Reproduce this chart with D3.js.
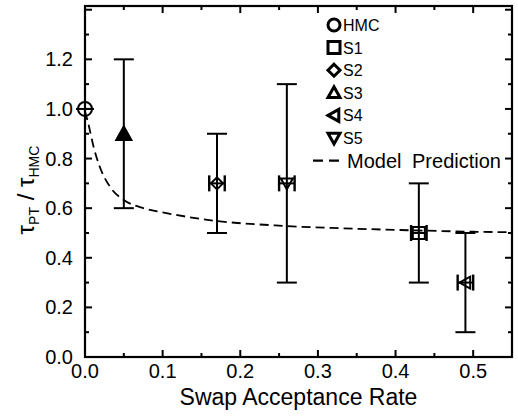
<!DOCTYPE html>
<html>
<head>
<meta charset="utf-8">
<script src="https://cdn.jsdelivr.net/npm/d3@7"></script>
<style>
  body { margin: 0; background: #fff; }
  svg { display: block; font-family: "Liberation Sans", Arial, Helvetica, sans-serif; }
</style>
</head>
<body>
<script>
const series = ["HMC", "S1", "S2", "S3", "S4", "S5"];
const symbols = ["circle", "square", "diamond", "triUp", "triLeft", "triDown"];
const rate = [0.0, 0.43, 0.17, 0.05, 0.49, 0.26];
const rateErr = [0, 0.01, 0.01, 0, 0.01, 0.01];
const ratio = [1.0, 0.5, 0.7, 0.9, 0.3, 0.7];
const ratioLo = [1.0, 0.3, 0.5, 0.6, 0.1, 0.3];
const ratioHi = [1.0, 0.7, 0.9, 1.2, 0.5, 1.1];

// dashed model curve
const modelRate = [0, 0.004, 0.011, 0.019, 0.032, 0.05, 0.075, 0.1, 0.16, 0.26, 0.35, 0.43, 0.5, 0.55];
const modelRatio = [0.99, 0.944, 0.848, 0.767, 0.687, 0.633, 0.60, 0.583, 0.552, 0.528, 0.517, 0.51, 0.505, 0.503];

const xTicks = [0, 0.1, 0.2, 0.3, 0.4, 0.5];
const yTicks = [0, 0.2, 0.4, 0.6, 0.8, 1.0, 1.2];

const width = 518, height = 417;
const margin = {left: 85, right: 6, top: 6, bottom: 60};

const svg = d3.select("body").append("svg")
    .attr("width", width)
    .attr("height", height);

const x = d3.scaleLinear().domain([0, 0.55]).range([margin.left, width - margin.right]);
const y = d3.scaleLinear().domain([0, 1.415]).range([height - margin.bottom, margin.top]);

const x0 = x.range()[0], x1 = x.range()[1];
const y0 = y.range()[0], y1 = y.range()[1];

// ticks on all four sides, pointing inward
const axes = svg.append("g").attr("stroke", "#000");
d3.range(0, 0.551, 0.05).forEach((v, i) => {
  const len = i % 2 === 0 ? 7 : 4;
  axes.append("line").attr("x1", x(v)).attr("x2", x(v)).attr("y1", y0).attr("y2", y0 - len).attr("stroke-width", 2);
  axes.append("line").attr("x1", x(v)).attr("x2", x(v)).attr("y1", y1).attr("y2", y1 + len).attr("stroke-width", 2);
});
d3.range(0, 1.41, 0.1).forEach((v, i) => {
  const len = i % 2 === 0 ? 7 : 4;
  axes.append("line").attr("y1", y(v)).attr("y2", y(v)).attr("x1", x0).attr("x2", x0 + len).attr("stroke-width", 2);
  axes.append("line").attr("y1", y(v)).attr("y2", y(v)).attr("x1", x1).attr("x2", x1 - len).attr("stroke-width", 2);
});

svg.append("rect")
    .attr("x", x0).attr("y", y1)
    .attr("width", x1 - x0).attr("height", y0 - y1)
    .attr("fill", "none").attr("stroke", "#000").attr("stroke-width", 2.2);

svg.append("g").selectAll("text")
  .data(xTicks)
  .join("text")
    .attr("x", d => x(d))
    .attr("y", y0 + 21)
    .attr("text-anchor", "middle")
    .attr("font-size", 20)
    .text(d => d3.format(".1f")(d));

svg.append("g").selectAll("text")
  .data(yTicks)
  .join("text")
    .attr("x", x0 - 12)
    .attr("y", d => y(d) + 7)
    .attr("text-anchor", "end")
    .attr("font-size", 20)
    .text(d => d3.format(".1f")(d));

svg.append("text")
    .attr("x", (x0 + x1) / 2)
    .attr("y", 405)
    .attr("text-anchor", "middle")
    .attr("font-size", 23)
    .text("Swap Acceptance Rate");

const yt = svg.append("text")
    .attr("transform", "translate(34,190) rotate(-90)")
    .attr("text-anchor", "middle")
    .attr("font-size", 24);
yt.append("tspan").text("τ");
yt.append("tspan").attr("font-size", 14).attr("dy", 5).text("PT");
yt.append("tspan").attr("dy", -5).text(" / τ");
yt.append("tspan").attr("font-size", 14).attr("dy", 5).text("HMC");

// model prediction
const line = d3.line()
    .x(d => x(d[0]))
    .y(d => y(d[1]))
    .curve(d3.curveMonotoneX);

svg.append("path")
    .datum(d3.zip(modelRate, modelRatio))
    .attr("d", line)
    .attr("fill", "none")
    .attr("stroke", "#000")
    .attr("stroke-width", 1.8)
    .attr("stroke-dasharray", "9,5");

function symbolPath(kind, s) {
  const h = s / 2;
  switch (kind) {
    case "square": return `M${-h},${-h}H${h}V${h}H${-h}Z`;
    case "diamond": return `M0,${-h}L${h},0L0,${h}L${-h},0Z`;
    case "triUp": return `M0,${-h}L${h},${h * 0.8}L${-h},${h * 0.8}Z`;
    case "triDown": return `M0,${h}L${h},${-h * 0.8}L${-h},${-h * 0.8}Z`;
    case "triLeft": return `M${-h},0L${h * 0.8},${-h}L${h * 0.8},${h}Z`;
  }
}

function drawSymbol(g, kind, s, sw) {
  if (kind === "circle") {
    g.append("circle").attr("r", s / 2).attr("fill", "none").attr("stroke", "#000").attr("stroke-width", sw);
  } else {
    g.append("path").attr("d", symbolPath(kind, s)).attr("fill", "none").attr("stroke", "#000").attr("stroke-width", sw);
  }
}

// error bars and points
const pts = series.map((name, i) => ({
  name, sym: symbols[i], x: rate[i], xe: rateErr[i], y: ratio[i], lo: ratioLo[i], hi: ratioHi[i]
}));

const pg = svg.append("g").attr("stroke", "#000");
pts.forEach(d => {
  const cx = x(d.x), cy = y(d.y);
  if (d.hi > d.lo) {
    pg.append("line").attr("x1", cx).attr("x2", cx).attr("y1", y(d.lo)).attr("y2", y(d.hi)).attr("stroke-width", 2);
    pg.append("line").attr("x1", cx - 10).attr("x2", cx + 10).attr("y1", y(d.lo)).attr("y2", y(d.lo)).attr("stroke-width", 2);
    pg.append("line").attr("x1", cx - 10).attr("x2", cx + 10).attr("y1", y(d.hi)).attr("y2", y(d.hi)).attr("stroke-width", 2);
  }
  if (d.xe > 0) {
    const xl = x(d.x - d.xe), xr = x(d.x + d.xe);
    pg.append("line").attr("x1", xl).attr("x2", xr).attr("y1", cy).attr("y2", cy).attr("stroke-width", 2);
    pg.append("line").attr("x1", xl).attr("x2", xl).attr("y1", cy - 8).attr("y2", cy + 8).attr("stroke-width", 2.4);
    pg.append("line").attr("x1", xr).attr("x2", xr).attr("y1", cy - 8).attr("y2", cy + 8).attr("stroke-width", 2.4);
  }
  const g = pg.append("g").attr("transform", `translate(${cx},${cy})`);
  if (d.sym === "circle") {
    drawSymbol(g, "circle", 14, 2);
    g.append("line").attr("x1", -9).attr("x2", 9).attr("stroke-width", 2);
    g.append("line").attr("y1", -9).attr("y2", 9).attr("stroke-width", 2);
  } else if (d.sym === "triUp") {
    g.append("path").attr("d", symbolPath("triUp", 16)).attr("fill", "#000").attr("stroke-width", 1.5);
  } else {
    drawSymbol(g, d.sym, 12, 2);
  }
});

// legend
const lg = svg.append("g");
series.forEach((name, i) => {
  const ly = 25 + i * 22.6;
  const g = lg.append("g").attr("transform", `translate(334,${ly})`);
  drawSymbol(g, symbols[i], 12, 3);
  lg.append("text")
      .attr("x", 343)
      .attr("y", ly + 6)
      .attr("font-size", 16)
      .text(name);
});
const my = 25 + 6 * 22.6;
lg.append("line")
    .attr("x1", 313).attr("x2", 340)
    .attr("y1", my).attr("y2", my)
    .attr("stroke", "#000").attr("stroke-width", 2.2)
    .attr("stroke-dasharray", "10,6");
lg.append("text")
    .attr("x", 347)
    .attr("y", my + 7)
    .attr("font-size", 20)
    .attr("word-spacing", 5)
    .text("Model Prediction");
</script>
</body>
</html>
